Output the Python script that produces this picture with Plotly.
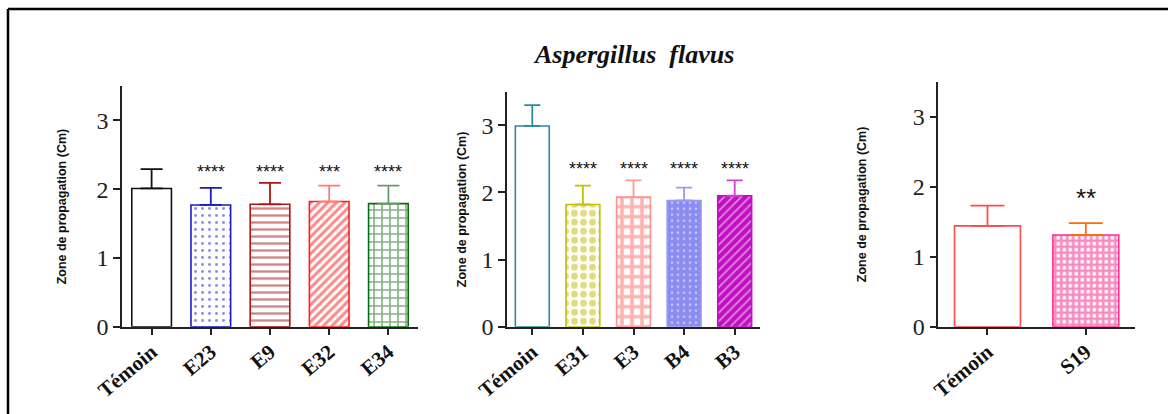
import plotly.graph_objects as go

# ---------------- data ----------------
p1_categories = ["Témoin", "E23", "E9", "E32", "E34"]
p1_means = [2.01, 1.77, 1.78, 1.82, 1.79]
p1_errors = [0.28, 0.25, 0.31, 0.23, 0.26]
p1_signif = ["", "****", "****", "***", "****"]

p2_categories = ["Témoin", "E31", "E3", "B4", "B3"]
p2_means = [2.99, 1.82, 1.93, 1.88, 1.95]
p2_errors = [0.31, 0.28, 0.25, 0.19, 0.23]
p2_signif = ["", "****", "****", "****", "****"]

p3_categories = ["Témoin", "S19"]
p3_means = [1.44, 1.31]
p3_errors = [0.29, 0.17]
p3_signif = ["", "**"]

title_text = "Aspergillus\u00a0\u00a0flavus"
y_title = "Zone de propagation (Cm)"
y_ticks = [0, 1, 2, 3]

# ---------------- styles ----------------
W, H = 1168, 414
p1_style = dict(
    line=["#111111", "#1a1ac8", "#b01414", "#ff2020", "#0b6b0b"],
    err=["#111111", "#1a1ac8", "#b01414", "#ff7a7a", "#6a9a6a"],
    shape=["", ".", "-", "/", "+"],
    fg=["#111111", "#1a1ad0", "#a80c0c", "#ff1010", "#056005"],
    bg=["white", "white", "white", "white", "white"],
    size=[8, 7, 7, 6, 8],
    solidity=[0.2, 0.14, 0.33, 0.5, 0.36],
    star_y=2.31, cap=11,
)
p2_style = dict(
    line=["#2a8a9c", "#c8c000", "#ff9090", "#9a9af5", "#c010c0"],
    err=["#2a8a9c", "#c8c000", "#ff9a9a", "#9a9af5", "#d040d0"],
    shape=["", ".", "+", ".", "/"],
    fg=["#2a8a9c", "#c2b800", "#ff6a6a", "white", "white"],
    bg=["white", "white", "white", "#8c8cf0", "#c010c0"],
    size=[8, 9, 10, 6, 6],
    solidity=[0.2, 0.45, 0.6, 0.15, 0.3],
    star_y=2.41, cap=8,
)
p3_style = dict(
    line=["#ff4a4a", "#ff3090"],
    err=["#ff4a4a", "#ff6a10"],
    shape=["", "+"],
    fg=["#ff4a4a", "#f0157f"],
    bg=["white", "white"],
    size=[8, 6],
    solidity=[0.2, 0.7],
    star_y=1.89, cap=17,
)

# pixel layout of each panel: (x_left, x_right, y_top, y_bottom)
panels = [
    (p1_categories, p1_means, p1_errors, p1_signif, p1_style, (122, 418, 86, 326.7), 62, 18),
    (p2_categories, p2_means, p2_errors, p2_signif, p2_style, (507, 760, 91.7, 326.7), 462, 18),
    (p3_categories, p3_means, p3_errors, p3_signif, p3_style, (938.3, 1135, 81.7, 326.7), 862, 26),
]

fig = go.Figure()
annotations = []
axis_color = "#222222"

for i, (cats, means, errs, sig, st, (xl, xr, yt, yb), ytx, star_size) in enumerate(panels):
    n = i + 1
    xa = "x" if n == 1 else f"x{n}"
    ya = "y" if n == 1 else f"y{n}"
    for j, c in enumerate(cats):
        fig.add_trace(go.Bar(
            x=[c], y=[means[j]], xaxis=xa, yaxis=ya, width=0.67,
            marker=dict(
                color="white",
                line=dict(color=st["line"][j], width=1.6),
                pattern=dict(shape=st["shape"][j], fgcolor=st["fg"][j], bgcolor=st["bg"][j],
                             size=st["size"][j], solidity=st["solidity"][j]),
            ),
            error_y=dict(type="data", symmetric=False, array=[errs[j]], arrayminus=[0],
                         color=st["err"][j], thickness=1.8, width=st["cap"]),
            showlegend=False, hoverinfo="skip",
        ))
        if sig[j]:
            annotations.append(dict(
                x=c, y=st["star_y"], xref=xa, yref=ya, text=sig[j], showarrow=False,
                xanchor="center", yanchor="middle",
                font=dict(family="Arial, Liberation Sans", size=star_size, color="#111111"),
                yshift=-4,
            ))
    dom_x = [xl / W, xr / W]
    dom_y = [1 - yb / H, 1 - yt / H]
    axkey = "xaxis" if n == 1 else f"xaxis{n}"
    aykey = "yaxis" if n == 1 else f"yaxis{n}"
    fig.update_layout(**{
        axkey: dict(
            domain=dom_x, anchor=ya, type="category", categoryorder="array", categoryarray=cats,
            range=[-0.5, len(cats) - 0.5], showline=True, linecolor=axis_color, linewidth=1.5,
            ticks="outside", ticklen=7, tickwidth=1.5, tickcolor=axis_color, tickangle=-40,
            tickfont=dict(family="Liberation Serif, Times New Roman", size=21, color="#111111"),
            showgrid=False, zeroline=False, automargin=False,
            tickprefix="<b>", ticksuffix="</b>", ticklabelstandoff=-4,
        ),
        aykey: dict(
            domain=dom_y, anchor=xa, range=[0, 3.5], tickvals=y_ticks, showline=True,
            linecolor=axis_color, linewidth=1.5, ticks="outside", ticklen=7, tickwidth=1.5,
            tickcolor=axis_color,
            tickfont=dict(family="Liberation Serif, Times New Roman", size=24, color="#222222"),
            showgrid=False, zeroline=False, automargin=False,
        ),
    })
    annotations.append(dict(
        x=ytx / W, y=1 - (yt + yb) / 2 / H, xref="paper", yref="paper", text=f"<b>{y_title}</b>",
        textangle=-90, showarrow=False, xanchor="center", yanchor="middle",
        font=dict(family="Arial, Liberation Sans", size=12.5, color="#111111"),
    ))

annotations.append(dict(
    x=633 / W, y=1 - 54 / H, xref="paper", yref="paper", text=f"<b><i>{title_text}</i></b>",
    showarrow=False, xanchor="center", yanchor="middle",
    font=dict(family="Liberation Serif, Times New Roman", size=26, color="#111111"),
))

fig.update_layout(
    width=W, height=H, margin=dict(l=0, r=0, t=0, b=0),
    paper_bgcolor="white", plot_bgcolor="white", barmode="overlay",
    annotations=annotations,
    shapes=[
        dict(type="line", xref="paper", yref="paper", x0=8 / W, x1=8 / W, y0=0, y1=1 - 9 / H,
             line=dict(color="black", width=2.5)),
        dict(type="line", xref="paper", yref="paper", x0=8 / W, x1=1, y0=1 - 9 / H, y1=1 - 9 / H,
             line=dict(color="black", width=2.5)),
    ],
)

fig.write_html("out.html", config={"displayModeBar": False},
               post_script="document.body.style.margin='0';document.body.style.overflow='hidden';")
